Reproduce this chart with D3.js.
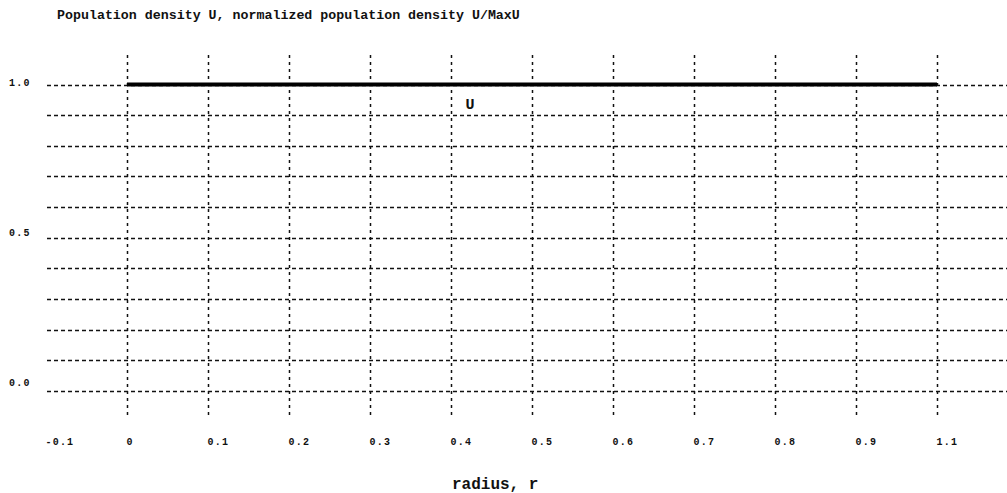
<!DOCTYPE html>
<html>
<head>
<meta charset="utf-8">
<script src="https://cdn.jsdelivr.net/npm/d3@7"></script>
<style>
  html, body { margin: 0; padding: 0; background: #fff; }
  svg { display: block; }
  text { font-family: "Liberation Mono", "Courier New", monospace; fill: #111; }
</style>
</head>
<body>
<svg id="chart" width="1007" height="493"></svg>
<script>
// ---- data ----
const titleText = "Population density U, normalized population density U/MaxU";
const xAxisTitle = "radius, r";
const radius = [0, 0.1, 0.2, 0.3, 0.4, 0.5, 0.6, 0.7, 0.8, 0.9, 1.0];
const U = [1, 1, 1, 1, 1, 1, 1, 1, 1, 1, 1];
const seriesName = "U";
const seriesLabelAt = [0.418, 0.92];          // data coords of the "U" label
const xTickValues = [-0.1, 0, 0.1, 0.2, 0.3, 0.4, 0.5, 0.6, 0.7, 0.8, 0.9, 1.0];
const xTickLabels = ["-0.1", "0", "0.1", "0.2", "0.3", "0.4", "0.5", "0.6", "0.7", "0.8", "0.9", "1.1"];
const xGridValues = [0, 0.1, 0.2, 0.3, 0.4, 0.5, 0.6, 0.7, 0.8, 0.9, 1.0];
const yGridValues = [0, 0.1, 0.2, 0.3, 0.4, 0.5, 0.6, 0.7, 0.8, 0.9, 1.0];
const yTickValues = [1.0, 0.5, 0.0];
const yTickLabels = ["1.0", "0.5", "0.0"];

// ---- layout ----
const W = 1007, H = 493;
const svg = d3.select("#chart");

const x = d3.scaleLinear().domain([0, 1]).range([127, 937]);
const y = d3.scaleLinear().domain([0, 1]).range([391, 84.5]);
// tick labels of the value axis sit on their own slightly shifted scale
const yLab = d3.scaleLinear().domain([0, 1]).range([385.5, 85.5]);

const gridLeft = x(-0.1) + 1, gridRight = W;
const gridTop = 55, gridBottom = 415;

// title
svg.append("text")
  .attr("x", 57).attr("y", 19)
  .attr("font-size", 13.3).attr("font-weight", "bold")
  .text(titleText);

// horizontal grid
svg.append("g").selectAll("line").data(yGridValues).join("line")
  .attr("x1", gridLeft).attr("x2", gridRight)
  .attr("y1", d => Math.round(y(d)) + 0.5).attr("y2", d => Math.round(y(d)) + 0.5)
  .attr("stroke", "#111").attr("stroke-width", 1.4)
  .attr("stroke-dasharray", "4,3");

// vertical grid
svg.append("g").selectAll("line").data(xGridValues).join("line")
  .attr("x1", d => Math.round(x(d)) + 0.5).attr("x2", d => Math.round(x(d)) + 0.5)
  .attr("y1", gridTop).attr("y2", gridBottom)
  .attr("stroke", "#111").attr("stroke-width", 1.5)
  .attr("stroke-dasharray", "3,4");

// series line
const line = d3.line().x((d, i) => x(radius[i])).y(d => y(d));
svg.append("path")
  .datum(U)
  .attr("d", line)
  .attr("fill", "none")
  .attr("stroke", "#000")
  .attr("stroke-width", 4);

// series label
svg.append("text")
  .attr("x", x(seriesLabelAt[0])).attr("y", y(seriesLabelAt[1]))
  .attr("font-size", 15).attr("font-weight", "bold")
  .text(seriesName);

// x tick labels
const xAxis = d3.axisBottom(x)
  .tickValues(xTickValues)
  .tickFormat((d, i) => xTickLabels[i])
  .tickSize(0).tickPadding(0);
const gx = svg.append("g").attr("transform", "translate(0,438)").call(xAxis);
gx.select(".domain").remove();
gx.selectAll("text")
  .attr("text-anchor", "start")
  .attr("dx", -1)
  .attr("font-family", "'Liberation Mono', monospace")
  .attr("font-size", 10).attr("font-weight", "bold")
  .attr("letter-spacing", 1.2)
  .attr("fill", "#111");

// y tick labels
svg.append("g").selectAll("text").data(yTickValues).join("text")
  .attr("x", 9).attr("y", d => yLab(d))
  .attr("font-size", 10).attr("font-weight", "bold")
  .attr("letter-spacing", 1.2)
  .text((d, i) => yTickLabels[i]);

// x axis title
svg.append("text")
  .attr("x", 452).attr("y", 489)
  .attr("font-size", 16).attr("font-weight", "bold")
  .text(xAxisTitle);
</script>
</body>
</html>
